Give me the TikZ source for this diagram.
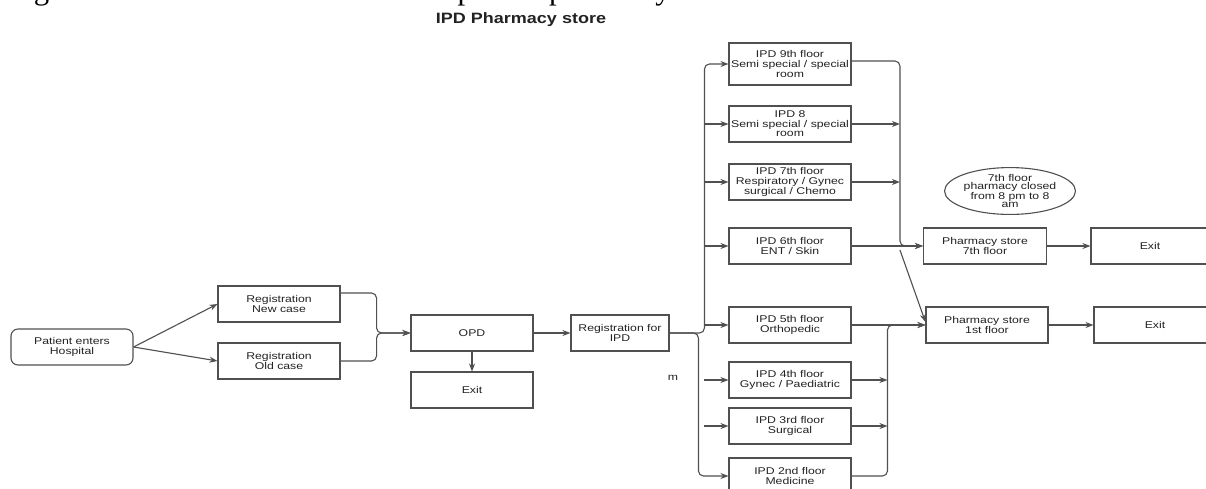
\documentclass[tikz,border=0pt]{standalone}
\usepackage{graphicx}
\usepackage{fontspec}
\setmainfont{Liberation Sans}
\newfontfamily\boxfam[FakeStretch=1.25]{Liberation Sans}
\newfontfamily\titlefam[FakeStretch=1.2]{Liberation Sans}
\newfontfamily\capfam{Liberation Serif}
\usetikzlibrary{arrows.meta,shapes.geometric,calc}
\definecolor{linec}{HTML}{505050}
\definecolor{txtc}{HTML}{222222}
\newcommand\bxfont{\boxfam\fontsize{9.8}{9.6}\selectfont}
\tikzset{
  box/.style={draw=linec, line width=1.1pt, minimum width=122pt, minimum height=36pt,
    align=center, font=\bxfont, text=txtc, inner sep=1pt},
  conn/.style={draw=linec, line width=1.1pt, rounded corners=5pt},
  arr/.style={conn, -{Stealth[length=8pt,width=6pt]}}
}
\begin{document}
\begin{tikzpicture}[x=1pt,y=-1pt]
\useasboundingbox (0,0) rectangle (1206,488);
\fill[white] (0,0) rectangle (1206,488);
\clip (0,0) rectangle (1206,488);

% caption (cut at top, as in the source) and title
\node[anchor=base west, inner sep=0, font=\capfam, text=black] (cap) at (8,-1)
  {\resizebox{668pt}{!}{Figure 1: Process overview of the inpatient pharmacy.}};
\node[font=\titlefam\bfseries\fontsize{15}{16}\selectfont, text=txtc] (title) at (521,20) {IPD Pharmacy store};

% left part
\node[box, rounded corners=7pt] (pat) at (72,347) {Patient enters\\Hospital};
\node[box] (regnew) at (279,304) {Registration\\New case};
\node[box] (regold) at (279,361) {Registration\\Old case};
\node[box] (opd) at (472,333) {OPD};
\node[box] (exitA) at (472,390) {Exit};
\node[box, minimum width=98pt] (regipd) at (620,333) {Registration for\\IPD};
\node[font=\bxfont, text=txtc, inner sep=0] (m) at (673,378) {m};

% IPD floors
\node[box, minimum height=42pt] (f9) at (790,64) {IPD 9th floor\\Semi special / special\\room};
\node[box] (f8) at (790,124) {IPD 8\\Semi special / special\\room};
\node[box] (f7) at (790,182) {IPD 7th floor\\Respiratory / Gynec\\surgical / Chemo};
\node[box] (f6) at (790,246) {IPD 6th floor\\ENT / Skin};
\node[box] (f5) at (790,325) {IPD 5th floor\\Orthopedic};
\node[box] (f4) at (790,380) {IPD 4th floor\\Gynec / Paediatric};
\node[box] (f3) at (790,426) {IPD 3rd floor\\Surgical};
\node[box] (f2) at (790,476) {IPD 2nd floor\\Medicine};

% pharmacies
\node[box, minimum width=123pt] (ph7) at (985,246) {Pharmacy store\\7th floor};
\node[box] (ph1) at (987,325) {Pharmacy store\\1st floor};
\node[box, minimum width=118pt] (ex7) at (1150,246) {Exit};
\node[box] (ex1) at (1155,325) {Exit};
\node[ellipse, draw=linec, line width=1.1pt, minimum width=100pt, minimum height=45pt,
  inner sep=0pt, align=center, text=txtc, font=\boxfam\fontsize{9.8}{7.9}\selectfont] (note) at (1010,191)
  {7th floor\\pharmacy closed\\from 8 pm to 8\\am};

% connectors left
\draw[arr] (pat.east) -- (regnew.west);
\draw[arr] (pat.east) -- (regold.west);
\draw[arr] ([yshift=11pt]regnew.east) -- ++(36,0) |- (opd.west);
\draw[arr] (regold.east) -- ++(36,0) |- (opd.west);
\draw[arr] (opd) -- (exitA);
\draw[arr] (opd) -- (regipd);

% distribution to floors
\coordinate (vl) at ([xshift=-24pt]f9.west);
\draw[arr] (regipd.east) -| (vl) -- (f9.west);
\draw[arr] (regipd.east) -| ([xshift=-30pt]f2.west) -- (f2.west);
\draw[arr] (vl |- f8.west) -- (f8.west);
\draw[arr] (vl |- f7.west) -- (f7.west);
\draw[arr] (vl |- f6.west) -- (f6.west);
\draw[arr] (vl |- f5.west) -- (f5.west);
\draw[arr] (vl |- f4.west) -- (f4.west);
\draw[arr] (vl |- f3.west) -- (f3.west);

% to pharmacy 7th floor
\coordinate (c7) at ([xshift=-23pt]ph7.west);
\draw[arr] ([yshift=3pt]f9.east) -| (c7) -- (ph7.west);
\draw[arr] (f8.east) -- (c7 |- f8.east);
\draw[arr] (f7.east) -- (c7 |- f7.east);
\draw[arr] (f6.east) -- (ph7.west);
\draw[arr] ([yshift=-4pt]c7) -- ([yshift=3pt]ph1.west);

% to pharmacy 1st floor
\coordinate (c1) at ([xshift=-38pt]ph1.west);
\draw[arr] (f5.east) -- (ph1.west);
\draw[arr] (f2.east) -| (c1) -- (ph1.west);
\draw[arr] (f4.east) -- (c1 |- f4.east);
\draw[arr] (f3.east) -- (c1 |- f3.east);

% exits
\draw[arr] (ph7) -- (ex7);
\draw[arr] (ph1) -- (ex1);
\end{tikzpicture}
\end{document}
